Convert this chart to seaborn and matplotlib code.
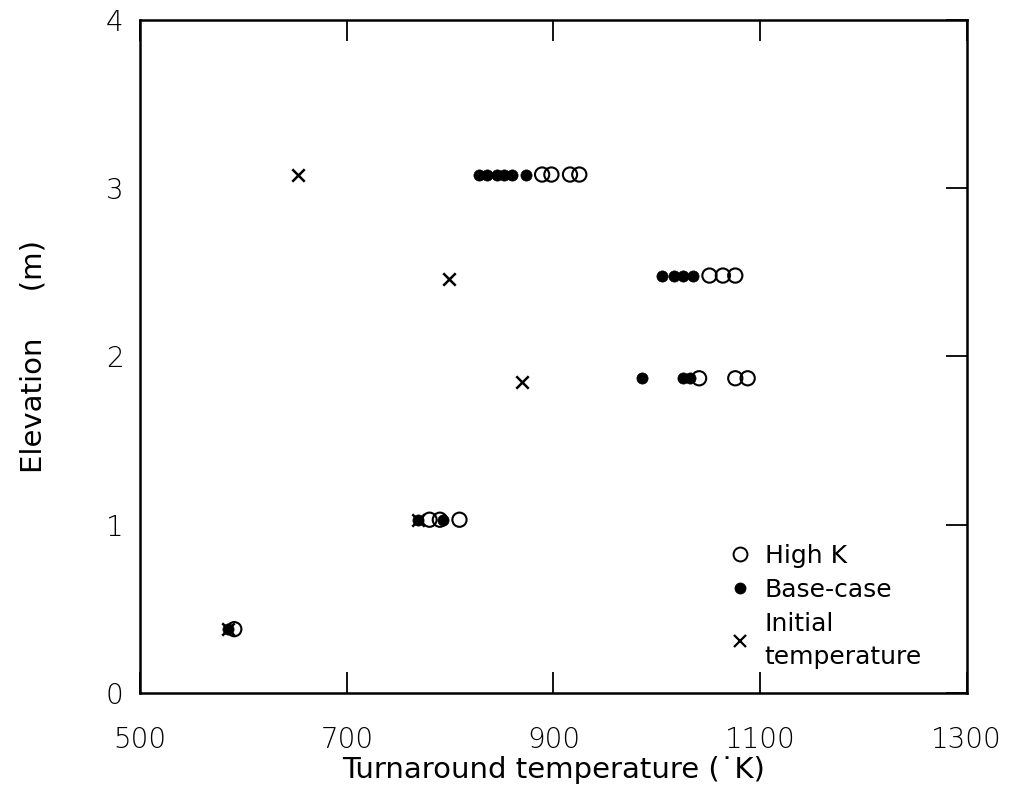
import matplotlib
matplotlib.use("Agg")
import matplotlib.pyplot as plt
from matplotlib.lines import Line2D
import seaborn as sns
import pandas as pd

# ---- data ----
highk_T = [591, 780, 790, 809, 1041, 1076, 1088, 1051, 1064, 1076, 889, 898, 916, 925]
highk_E = [0.38, 1.03, 1.03, 1.03, 1.87, 1.87, 1.87, 2.48, 2.48, 2.48, 3.08, 3.08, 3.08, 3.08]

base_T = [585, 769, 793, 986, 1025, 1032, 1005, 1017, 1025, 1035, 828, 836, 845, 852, 860, 873]
base_E = [0.38, 1.03, 1.03, 1.87, 1.87, 1.87, 2.48, 2.48, 2.48, 2.48, 3.08, 3.08, 3.08, 3.08, 3.08, 3.08]

init_T = [585, 769, 870, 799, 653]
init_E = [0.38, 1.03, 1.85, 2.46, 3.08]

x_ticks = [500, 700, 900, 1100, 1300]
y_ticks = [0, 1, 2, 3, 4]
legend_labels = ["High K", "Base-case", "Initial\ntemperature"]

sns.set_theme(style="white")
plt.rcParams["font.family"] = ["DejaVu Sans"]
plt.rcParams["text.color"] = "black"
plt.rcParams["axes.labelcolor"] = "black"

fig = plt.figure(figsize=(10.24, 7.85), dpi=100)
ax = fig.add_axes([0.137, 0.117, 0.807, 0.858])

df_h = pd.DataFrame({"T": highk_T, "E": highk_E})
df_b = pd.DataFrame({"T": base_T, "E": base_E})
df_i = pd.DataFrame({"T": init_T, "E": init_E})

sns.scatterplot(data=df_h, x="T", y="E", ax=ax, marker="o", s=105,
                facecolors="none", edgecolor="black", linewidth=1.5, zorder=3)
sns.scatterplot(data=df_b, x="T", y="E", ax=ax, marker="o", s=65,
                color="black", edgecolor="black", linewidth=0.5, zorder=4)
sns.scatterplot(data=df_i, x="T", y="E", ax=ax, marker="x", s=80,
                color="black", linewidth=1.8, zorder=5)

ax.set_xlim(500, 1300)
ax.set_ylim(0, 4)
ax.set_xticks(x_ticks)
ax.set_yticks(y_ticks)
ax.set_xticklabels([str(v) for v in x_ticks], fontsize=20, fontweight="light")
ax.set_yticklabels([str(v) for v in y_ticks], fontsize=20, fontweight="light")

for sp in ax.spines.values():
    sp.set_visible(True)
    sp.set_color("black")
    sp.set_linewidth(1.8)

ax.tick_params(axis="x", direction="in", length=15, width=1.3, top=True, bottom=True,
               pad=24, colors="black")
ax.tick_params(axis="y", direction="in", length=15, width=1.3, left=False, right=True,
               pad=12, colors="black")

ax.set_xlabel("Turnaround temperature (\u02d9K)", fontsize=21, labelpad=1)
ax.set_ylabel("Elevation     (m)", fontsize=21, labelpad=42)
ax.grid(False)

handles = [
    Line2D([], [], linestyle="none", marker="o", markersize=10, markerfacecolor="none",
           markeredgecolor="black", markeredgewidth=1.4),
    Line2D([], [], linestyle="none", marker="o", markersize=7.5, color="black"),
    Line2D([], [], linestyle="none", marker="x", markersize=9, color="black",
           markeredgewidth=1.6),
]
leg = ax.legend(handles, legend_labels, loc="upper left", bbox_to_anchor=(0.68, 0.255),
                frameon=False, fontsize=18, handletextpad=0.4, labelspacing=0.4,
                handlelength=1.2, labelcolor="black")
for t in leg.get_texts():
    t.set_linespacing(1.5)

fig.savefig("out.png", dpi=100, facecolor="white")
